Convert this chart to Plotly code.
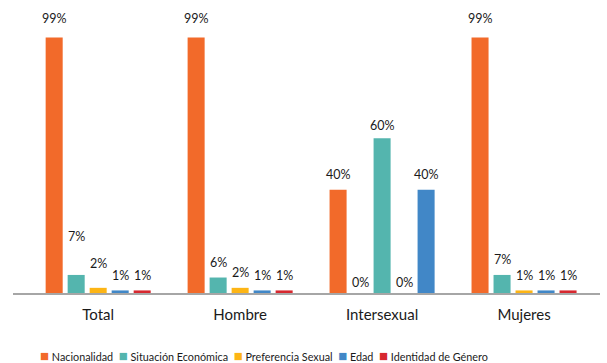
import plotly.graph_objects as go

categories = ["Total", "Hombre", "Intersexual", "Mujeres"]
series_names = ["Nacionalidad", "Situación Económica", "Preferencia Sexual", "Edad", "Identidad de Género"]
nacionalidad = [99, 99, 40, 99]
situacion = [7, 6, 60, 7]
preferencia = [2, 2, 0, 1]
edad = [1, 1, 40, 1]
identidad = [1, 1, 0, 1]
series_values = [nacionalidad, situacion, preferencia, edad, identidad]
colors = ["#F26A2A", "#54B5AE", "#FDB515", "#4187C7", "#D7282F"]

# slot order within each group (reference swaps slots in "Intersexual")
slot_order = {
    "Intersexual": [0, 2, 1, 4, 3],
}
slot_step = 0.155
bar_w = 0.12
label_lift = {("Total", 1): 38, ("Total", 2): 24, ("Intersexual", 1): 13,
              ("Intersexual", 2): 11, ("Intersexual", 4): 11}

FONT = "Lato, 'Open Sans', sans-serif"
fig = go.Figure()
annotations = []
for s, (name, vals, col) in enumerate(zip(series_names, series_values, colors)):
    offsets = []
    for i, cat in enumerate(categories):
        slot = slot_order.get(cat, [0, 1, 2, 3, 4])[s]
        center = (slot - 2) * slot_step
        offsets.append(center - bar_w / 2)
        lift = label_lift.get((cat, s), 19 if vals[i] >= 90 else 15)
        annotations.append(dict(x=i + center, y=vals[i], xref="x", yref="y",
                                text=f"{vals[i]}%", showarrow=False, yshift=lift,
                                font=dict(size=12.5, color="#1A1A1A", family=FONT)))
    fig.add_trace(go.Bar(x=list(range(len(categories))), y=vals, name=name,
                         marker=dict(color=col, line=dict(width=0)),
                         width=bar_w, offset=offsets, showlegend=False))

# custom compact legend as a single annotation
parts = []
for name, col in zip(series_names, colors):
    parts.append(f"<span style='color:{col};font-size:15px'>■</span>&nbsp;{name}")
annotations.append(dict(x=(264 - 13) / (607 - 13 - 7), y=-(355 - 293) / (293 - 35),
                        xref="paper", yref="paper", text="&nbsp;&nbsp;".join(parts),
                        xanchor="center", yanchor="middle", showarrow=False,
                        font=dict(size=10.8, color="#1A1A1A", family=FONT)))

fig.update_layout(
    width=607, height=363,
    margin=dict(l=13, r=7, t=35, b=70),
    paper_bgcolor="white", plot_bgcolor="white",
    barmode="overlay",
    annotations=annotations,
    xaxis=dict(range=[-0.6, 3.535], tickmode="array", tickvals=list(range(len(categories))),
               ticktext=categories, showgrid=False, zeroline=False, showline=True,
               linecolor="#A6A6A6", linewidth=1.5, ticks="", ticklabelstandoff=7,
               tickfont=dict(size=15, color="#1A1A1A", family=FONT)),
    yaxis=dict(range=[0, 100], visible=False, showgrid=False),
)
fig.write_html("out.html", config={"displayModeBar": False},
               post_script="document.body.style.margin='0';")
